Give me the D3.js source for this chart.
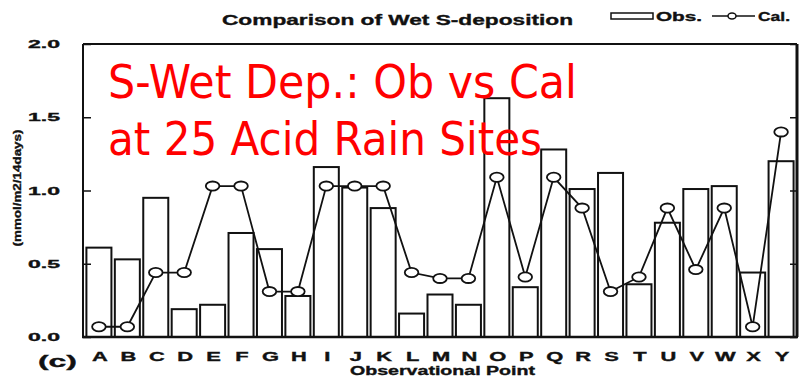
<!DOCTYPE html>
<html>
<head>
<meta charset="utf-8">
<script src="https://cdn.jsdelivr.net/npm/d3@7/dist/d3.min.js"></script>
<style>
  html, body { margin: 0; padding: 0; background: #fff; }
  svg { display: block; }
  .ink { font-family: "Liberation Sans", Arial, Helvetica, sans-serif; font-weight: bold; fill: #111; stroke: #111; stroke-width: 0.35px; }
</style>
</head>
<body>
<svg id="chart" width="804" height="379"></svg>
<script>
// Observation sites along the x axis
const sites = ["A","B","C","D","E","F","G","H","I","J","K","L","M","N","O","P","Q","R","S","T","U","V","W","X","Y"];
// Observed wet S-deposition (bars), mmol/m2/14days
const observed = [0.61,0.53,0.95,0.19,0.22,0.71,0.60,0.28,1.16,1.02,0.88,0.16,0.29,0.22,1.63,0.34,1.28,1.01,1.12,0.36,0.78,1.01,1.03,0.44,1.20];
// Calculated wet S-deposition (line with open markers)
const calculated = [0.07,0.07,0.44,0.44,1.03,1.03,0.31,0.31,1.03,1.03,1.03,0.44,0.40,0.40,1.09,0.41,1.09,0.88,0.31,0.41,0.88,0.46,0.88,0.07,1.40];
// Y axis ticks
const yTicks = [0, 0.5, 1.0, 1.5, 2.0];
// Texts
const chartTitle = "Comparison of Wet S-deposition";
const xTitle = "Observational Point";
const yTitle = "(mmol/m2/14days)";
const panelTag = "(c)";
const legendLabels = ["Obs.", "Cal."];
const overlayLines = ["S-Wet Dep.: Ob vs Cal", "at 25 Acid Rain Sites"];

const svg = d3.select("#chart");
const plot = { left: 83, right: 797, top: 44, bottom: 337 };

const x = d3.scaleBand().domain(sites).range([plot.left, plot.right])
  .paddingInner(0.12).paddingOuter(0.12);
const y = d3.scaleLinear().domain([0, 2]).range([plot.bottom, plot.top]);

// Stretch a text element horizontally to a given length
function stretch(sel, len) {
  sel.attr("textLength", len).attr("lengthAdjust", "spacingAndGlyphs");
}

// Bars (observed)
svg.append("g").selectAll("rect")
  .data(observed)
  .join("rect")
  .attr("x", (d, i) => x(sites[i]))
  .attr("width", x.bandwidth())
  .attr("y", d => y(d))
  .attr("height", d => y(0) - y(d))
  .attr("fill", "#fff")
  .attr("stroke", "#111")
  .attr("stroke-width", 2);

// Line (calculated)
const cx = i => x(sites[i]) + x.bandwidth() / 2;
svg.append("path")
  .datum(calculated)
  .attr("fill", "none")
  .attr("stroke", "#111")
  .attr("stroke-width", 1.8)
  .attr("d", d3.line().x((d, i) => cx(i)).y(d => y(d)));

svg.append("g").selectAll("ellipse")
  .data(calculated)
  .join("ellipse")
  .attr("cx", (d, i) => cx(i))
  .attr("cy", d => y(d))
  .attr("rx", 6.8)
  .attr("ry", 4.6)
  .attr("fill", "#fff")
  .attr("stroke", "#111")
  .attr("stroke-width", 1.8);

// Left axis: inward ticks, labels outside
const yAxisL = svg.append("g")
  .attr("transform", `translate(${plot.left},0)`)
  .call(d3.axisLeft(y).tickValues(yTicks).tickFormat(d3.format(".1f"))
    .tickSizeInner(-8).tickSizeOuter(0).tickPadding(23));
yAxisL.select(".domain").remove();
yAxisL.selectAll("line").attr("stroke", "#111").attr("stroke-width", 1.5);
yAxisL.selectAll("text").attr("class", "ink").attr("font-size", 11.5)
  .call(stretch, 32);

// Right axis: inward ticks, no labels
const yAxisR = svg.append("g")
  .attr("transform", `translate(${plot.right},0)`)
  .call(d3.axisRight(y).tickValues(yTicks).tickFormat("")
    .tickSizeInner(-7).tickSizeOuter(0));
yAxisR.select(".domain").remove();
yAxisR.selectAll("line").attr("stroke", "#111").attr("stroke-width", 1.5);

// Bottom axis: letters only
const xAxis = svg.append("g")
  .attr("transform", `translate(0,${plot.bottom})`)
  .call(d3.axisBottom(x).tickSize(0).tickPadding(0));
xAxis.select(".domain").remove();
xAxis.selectAll(".tick text")
  .attr("class", "ink")
  .attr("font-size", 12.5)
  .attr("dy", 0)
  .attr("y", 0)
  .attr("x", 0)
  .attr("text-anchor", "middle")
  .attr("transform", "translate(1,24) scale(1.75,1)");

// Frame
const frame = svg.append("g").attr("stroke", "#111").attr("fill", "none");
frame.append("line").attr("x1", plot.left).attr("x2", plot.right)
  .attr("y1", plot.top).attr("y2", plot.top).attr("stroke-width", 2);
frame.append("line").attr("x1", plot.left).attr("x2", plot.left)
  .attr("y1", plot.top).attr("y2", plot.bottom).attr("stroke-width", 2);
frame.append("line").attr("x1", plot.right).attr("x2", plot.right)
  .attr("y1", plot.top).attr("y2", plot.bottom).attr("stroke-width", 3);
frame.append("line").attr("x1", plot.left - 1).attr("x2", plot.right + 1)
  .attr("y1", plot.bottom).attr("y2", plot.bottom).attr("stroke-width", 2.5);

// Title
svg.append("text").attr("class", "ink").attr("x", 222).attr("y", 25)
  .attr("font-size", 15).text(chartTitle).call(stretch, 351);

// Legend
const lg = svg.append("g");
lg.append("rect").attr("x", 611).attr("y", 13).attr("width", 42).attr("height", 6)
  .attr("fill", "#fff").attr("stroke", "#111").attr("stroke-width", 1.5);
lg.append("text").attr("class", "ink").attr("x", 656).attr("y", 21)
  .attr("font-size", 12).text(legendLabels[0]).call(stretch, 46);
lg.append("line").attr("x1", 712).attr("x2", 755).attr("y1", 16).attr("y2", 16)
  .attr("stroke", "#111").attr("stroke-width", 1.5);
lg.append("ellipse").attr("cx", 732).attr("cy", 16).attr("rx", 4).attr("ry", 3)
  .attr("fill", "#fff").attr("stroke", "#111").attr("stroke-width", 1.5);
lg.append("text").attr("class", "ink").attr("x", 758).attr("y", 21)
  .attr("font-size", 12).text(legendLabels[1]).call(stretch, 32);

// Axis titles and panel tag
svg.append("text").attr("class", "ink")
  .attr("transform", "translate(21,188) rotate(-90)")
  .attr("text-anchor", "middle").attr("font-size", 10.5)
  .text(yTitle).call(stretch, 117);
svg.append("text").attr("class", "ink").attr("x", 350).attr("y", 375)
  .attr("font-size", 12.5).text(xTitle).call(stretch, 185);
svg.append("text").attr("class", "ink").attr("x", 38).attr("y", 367)
  .attr("font-size", 16).text(panelTag).call(stretch, 39);

// Red annotation
const red = svg.append("g")
  .attr("font-family", "'DejaVu Sans Condensed', 'DejaVu Sans', 'Liberation Sans', sans-serif")
  .attr("font-size", 46).attr("fill", "#ff0000");
red.append("text").attr("x", 108).attr("y", 98).text(overlayLines[0]).call(stretch, 469);
red.append("text").attr("x", 108).attr("y", 155).text(overlayLines[1]).call(stretch, 434);
</script>
</body>
</html>
